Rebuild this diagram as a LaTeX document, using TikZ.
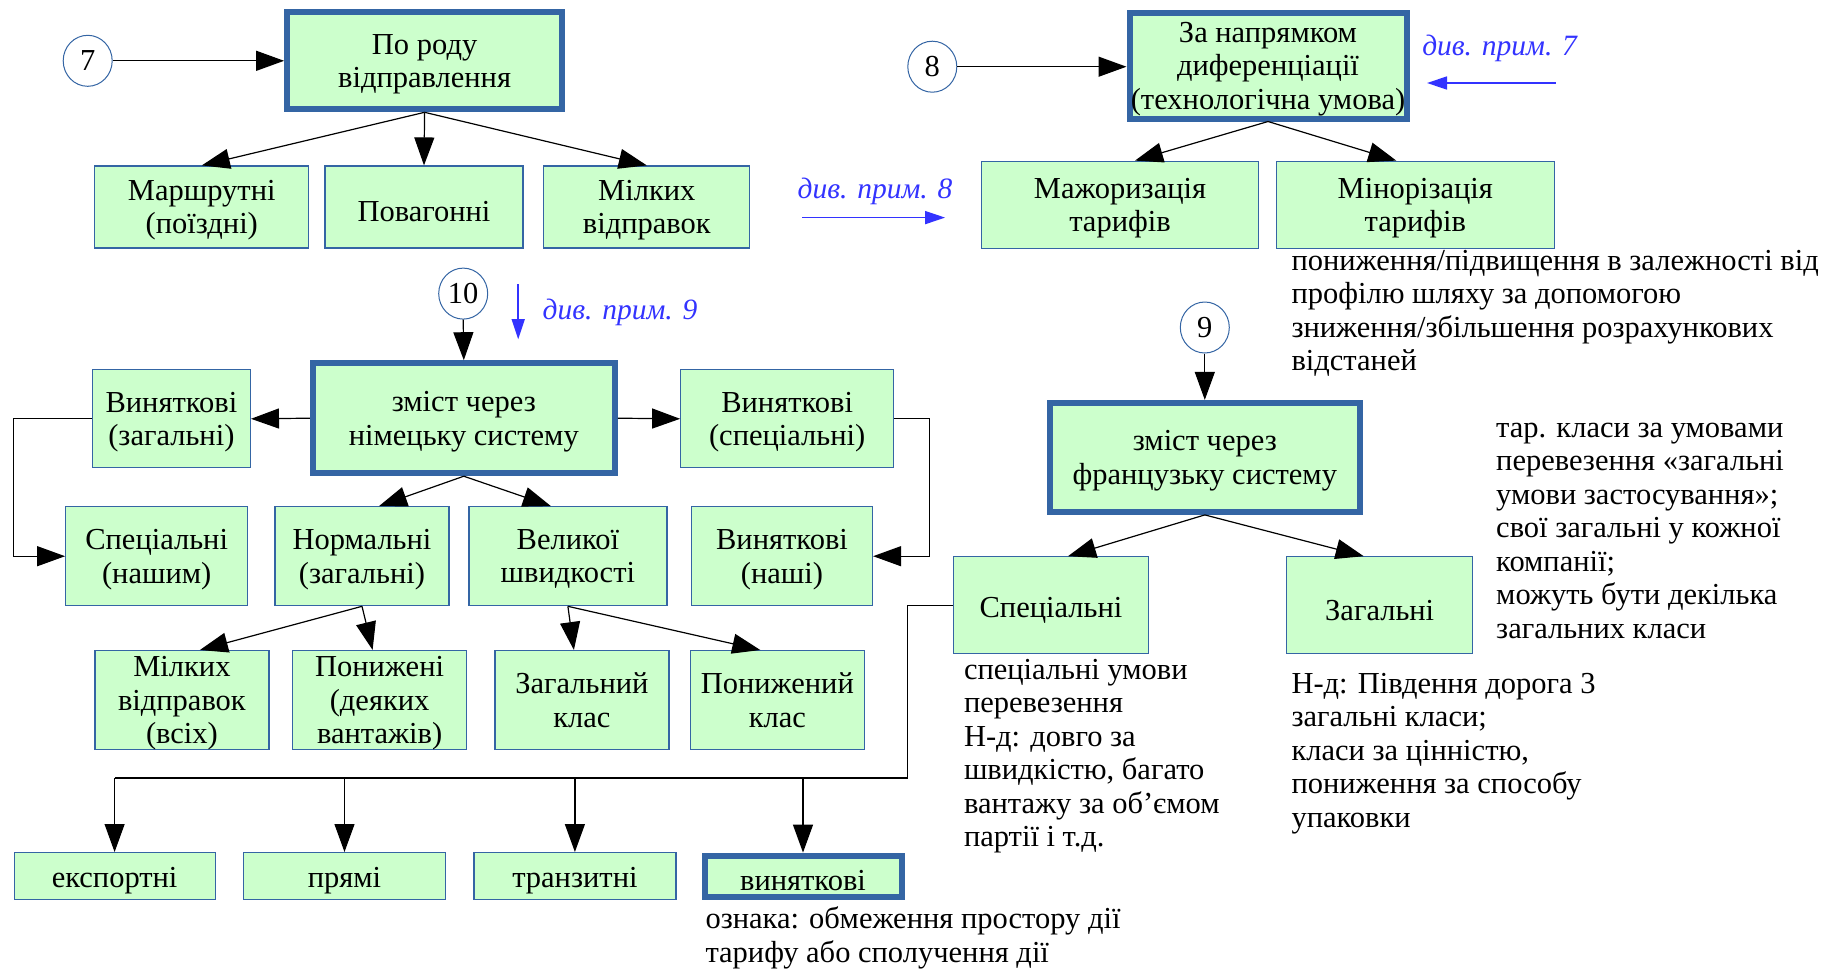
\documentclass[tikz,border=0pt]{standalone}
\usepackage{fontspec}
\setmainfont{Liberation Serif}
\usetikzlibrary{arrows.meta,shapes.geometric}
\definecolor{boxfill}{HTML}{CCFFCC}
\definecolor{boxline}{HTML}{3465A4}
\definecolor{noteblue}{HTML}{3333FF}
\tikzset{
  txt/.style={font=\fontsize{30.5}{33.5}\selectfont},
  % the strut on a single line sets the text a little below the middle of the box
  box/.style={txt, draw=boxline, line width=1.2pt, fill=boxfill, align=center, inner sep=0pt,
    execute at begin node={\rule{0pt}{30pt}}},
  % multi-line texts get the same offset through a reduced depth
  ml/.style={text depth=-3.5pt},
  mainbox/.style={box, line width=6pt},
  num/.style={txt, ellipse, draw=boxline, line width=1pt, fill=white, minimum width=49pt, minimum height=51pt, inner sep=0pt},
  arr/.style={-{Triangle[length=28pt,width=20pt]}, line width=1.2pt},
  plain/.style={line width=1.2pt},
  barr/.style={-{Triangle[length=20pt,width=13pt]}, draw=noteblue, line width=1.5pt},
  bluelabel/.style={text=noteblue, font=\fontsize{29.5}{33.5}\selectfont\itshape, inner sep=0pt},
  note/.style={txt, anchor=base west, align=left, inner sep=0pt},
}
\begin{document}
\begin{tikzpicture}[x=1pt,y=-1pt]
\useasboundingbox (0,0) rectangle (1834,970);

% --- by type of shipment
\node[num] (n7) at (87.7,60.8) {7};
\node[mainbox, ml, minimum width=275pt, minimum height=97pt] (rod) at (424.6,60.8) {По роду\\відправлення};
\node[box, ml, minimum width=214pt, minimum height=82pt] (mar) at (201.8,207) {Маршрутні\\(поїздні)};
\node[box, minimum width=198pt, minimum height=82pt] (pov) at (424,207) {Повагонні};
\node[box, ml, minimum width=206pt, minimum height=82pt] (mil) at (646.8,207) {Мілких\\відправок};
\draw[arr] (n7.east) -- (n7.east -| rod.west);
\draw[arr] (rod.south) -- (mar.north);
\draw[arr] (rod.south) -- (pov.north);
\draw[arr] (rod.south) -- (mil.north);

% --- by direction of differentiation
\node[num] (n8) at (932.3,66.7) {8};
\node[mainbox, ml, minimum width=277pt, minimum height=106pt] (dir) at (1268,65.5) {За напрямком\\диференціації\\(технологічна умова)};
\node[box, ml, minimum width=277pt, minimum height=87pt] (maj) at (1120,204.7) {Мажоризація\\тарифів};
\node[box, ml, minimum width=278pt, minimum height=87pt] (min) at (1415.3,204.7) {Мінорізація\\тарифів};
\draw[arr] (n8.east) -- (n8.east -| dir.west);
\draw[arr] (dir.south) -- ([xshift=15pt]maj.north);
\draw[arr] (dir.south) -- ([xshift=-19pt]min.north);

\node[bluelabel] (p7) at (1499.6,48) {див. прим. 7};
\coordinate (p7a) at (1555.7,83);
\coordinate (p7b) at (1427,83);
\draw[barr] (p7a) -- (p7b);
\node[bluelabel] (p8) at (875,191.8) {див. прим. 8};
\coordinate (p8a) at (802.4,217.6);
\coordinate (p8b) at (945.1,217.6);
\draw[barr] (p8a) -- (p8b);

% multi-line notes: the base anchor sits on the last line
\node[note] (t1) at (1291.3,370.5) {пониження/підвищення в залежності від\\профілю шляху за допомогою\\зниження/збільшення розрахункових\\відстаней};

% --- German system
\node[num] (n10) at (463.2,293.6) {10};
\coordinate (p9a) at (518.2,284.2);
\coordinate (p9b) at (518.2,339.2);
\draw[barr] (p9a) -- (p9b);
\node[bluelabel] (p9) at (620,312.3) {див. прим. 9};

\node[mainbox, ml, minimum width=302pt, minimum height=110pt] (ger) at (463.8,418.2) {зміст через\\німецьку систему};
\node[box, ml, minimum width=158pt, minimum height=98pt] (vz) at (171.4,418.8) {Виняткові\\(загальні)};
\node[box, ml, minimum width=213pt, minimum height=98pt] (vs) at (787.2,418.8) {Виняткові\\(спеціальні)};
\draw[arr] (n10.south) -- (ger.north);
\draw[arr] (ger.west) -- (vz.east);
\draw[arr] (ger.east) -- (vs.west);

\node[box, ml, minimum width=182pt, minimum height=99pt] (sn) at (156.7,556.2) {Спеціальні\\(нашим)};
\node[box, ml, minimum width=174pt, minimum height=99pt] (nz) at (362,556.2) {Нормальні\\(загальні)};
\node[box, ml, minimum width=198pt, minimum height=99pt] (vsh) at (567.9,556.2) {Великої\\швидкості};
\node[box, ml, minimum width=181pt, minimum height=99pt] (vn) at (782,556.2) {Виняткові\\(наші)};
\draw[arr] (vz.west) -- ++(-78.4,0) |- (sn.west);
\draw[arr] (vs.east) -- ++(35,0) |- (vn.east);
\draw[arr] (ger.south) -- ([xshift=17pt]nz.north);
\draw[arr] (ger.south) -- ([xshift=-17pt]vsh.north);

\node[box, ml, minimum width=174pt, minimum height=99pt] (mv) at (181.9,700.1) {Мілких\\відправок\\(всіх)};
\node[box, ml, minimum width=174pt, minimum height=99pt] (pd) at (379.6,700.1) {Понижені\\(деяких\\вантажів)};
\node[box, ml, minimum width=174pt, minimum height=99pt] (zk) at (581.9,700.1) {Загальний\\клас};
\node[box, ml, minimum width=174pt, minimum height=99pt] (pk) at (777.3,700.1) {Понижений\\клас};
\draw[arr] (nz.south) -- ([xshift=18pt]mv.north);
\draw[arr] (nz.south) -- ([xshift=-7pt]pd.north);
\draw[arr] (vsh.south) -- ([xshift=-8pt]zk.north);
\draw[arr] (vsh.south) -- ([xshift=-17pt]pk.north);

% --- French system
\node[num] (n9) at (1204.8,327.5) {9};
\node[mainbox, ml, minimum width=310pt, minimum height=109pt] (fr) at (1204.8,457.4) {зміст через\\французьку систему};
\node[box, minimum width=195pt, minimum height=97pt] (fs) at (1051,605.3) {Спеціальні};
\node[box, minimum width=186pt, minimum height=97pt] (fz) at (1379.7,605.3) {Загальні};
\draw[arr] (n9.south) -- (fr.north);
\draw[arr] (fr.south) -- ([xshift=17pt]fs.north);
\draw[arr] (fr.south) -- ([xshift=-16pt]fz.north);

\node[note] (t2) at (1496,638.3) {тар. класи за умовами\\перевезення «загальні\\умови застосування»;\\свої загальні у кожної\\компанії;\\можуть бути декілька\\загальних класи};
\node[note] (t3) at (963.8,846.9) {спеціальні умови\\перевезення\\Н-д: довго за\\швидкістю, багато\\вантажу за об’ємом\\партії і т.д.};
\node[note] (t4) at (1291.3,827.4) {Н-д: Південня дорога 3\\загальні класи;\\класи за цінністю,\\пониження за способу\\упаковки};

% --- bottom row fed from the special tariffs
\node[box, minimum width=201pt, minimum height=47pt] (eks) at (114.6,876.1) {експортні};
\node[box, minimum width=202pt, minimum height=47pt] (pr) at (344.5,876.1) {прямі};
\node[box, minimum width=202pt, minimum height=47pt] (tr) at (574.9,876.1) {транзитні};
\node[mainbox, minimum width=197pt, minimum height=41pt] (vy) at (803,876.1) {виняткові};
\coordinate (busL) at (114.6,777.9);
\draw[plain] (fs.west) -- ++(-45.6,0) |- (busL);
\draw[arr] (busL) -- (eks.north);
\draw[arr] (pr.north |- busL) -- (pr.north);
\draw[arr] (tr.north |- busL) -- (tr.north);
\draw[arr] (vy.north |- busL) -- (vy.north);
\node[note] (t5) at (705.3,962.1) {ознака: обмеження простору дії\\тарифу або сполучення дії};
\end{tikzpicture}
\end{document}
